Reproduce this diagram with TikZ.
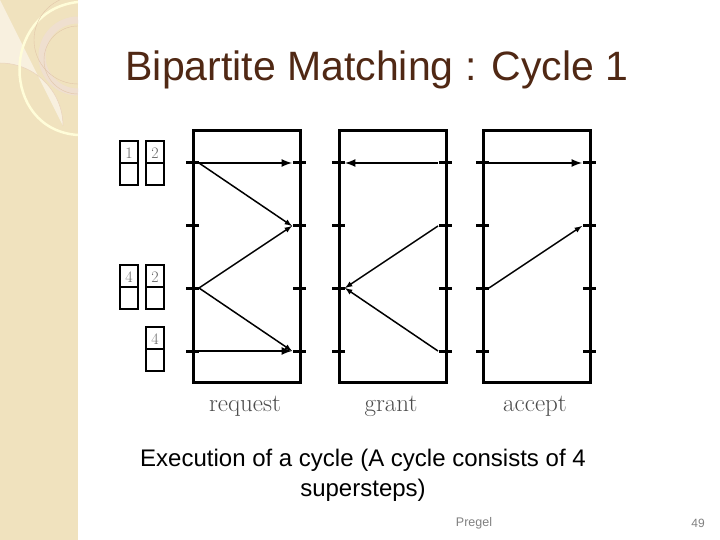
\documentclass[tikz,border=0pt]{standalone}
\usepackage{fontspec}
\setmainfont{Liberation Sans}
\newfontfamily\lmr{Latin Modern Roman}
\definecolor{strip}{RGB}{240,226,190}
\definecolor{ttl}{RGB}{80,40,20}
\begin{document}
\begin{tikzpicture}[x=1pt,y=-1pt,
  col/.style={draw,line width=3pt},
  cell/.style={draw,line width=2.5pt},
  tk/.style={line width=3pt},
  arr/.style={-latex,line width=1.5pt},
  harr/.style={-latex,line width=2.5pt},
  lab/.style={font=\lmr\fontsize{25}{28}\selectfont,text=black!70},
  num/.style={font=\lmr\fontsize{16}{18}\selectfont,text=black!60}]
\useasboundingbox (0,0) rectangle (720,540);
\fill[white] (0,0) rectangle (720,540);
\fill[strip] (0,0) rectangle (78,540);
\fill[white!50!strip] (0,0) -- (0,63) arc[start angle=270,end angle=360,radius=63] -- cycle;
\draw[brown!35,line width=0.5pt] (0,63) arc[start angle=270,end angle=360,radius=63];
\draw[white!85!yellow,line width=2.5pt] (78,2) .. controls (0,10) and (0,130) .. (78,135);
\draw[brown!25,line width=7pt] (78,92) arc[start angle=90,end angle=270,radius=36];
\draw[brown!45,line width=0.4pt] (78,84) arc[start angle=90,end angle=270,radius=44];
\draw[brown!45,line width=0.4pt] (78,94) arc[start angle=90,end angle=270,radius=34];
\node[text=ttl,font=\fontsize{41}{44}\selectfont] (title) at (377,70) {Bipartite Matching : Cycle 1};
% columns
\foreach \n/\x in {r/193,g/339,a/483}{
  \draw[col] (\x,131) rectangle ++(107,251);
  \foreach \y/\i in {163/1,226/2,288/3,351/4}{
    \draw[tk] (\x-7,\y) -- (\x+6,\y);
    \draw[tk] (\x+100,\y) -- (\x+113,\y);
    \coordinate (\n L\i) at (\x+6,\y);
    \coordinate (\n R\i) at (\x+99,\y);
  }
}
% cells
\foreach \nm/\x/\y/\t in {c1/120/141/1,c2/146/141/2,c3/120/265/4,c4/146/265/2,c5/146/327/4}{
  \draw[cell] (\x,\y) rectangle ++(18,44);
  \draw[cell] (\x,\y+22) -- ++(18,0);
  \node[num] (\nm) at (\x+9,\y+12) {\t};
}
% request
\draw[harr] (rL1) -- (rR1);
\draw[arr] (rL1) -- (rR2);
\draw[arr] (rL3) -- (rR2);
\draw[arr] (rL3) -- (rR4);
\draw[harr] (rL4) -- (rR4);
% grant
\draw[harr] (gR1) -- (gL1);
\draw[arr] (gR2) -- (gL3);
\draw[arr] (gR4) -- (gL3);
% accept
\draw[harr] (aL1) -- (aR1);
\draw[arr] (aL3) -- (aR2);
\node[lab] (l1) at (245,406) {request};
\node[lab] (l2) at (391,406) {grant};
\node[lab] (l3) at (535,406) {accept};
\node[font=\fontsize{24}{30}\selectfont,align=center] (cap) at (363,475) {Execution of a cycle (A cycle consists of 4\\supersteps)};
\node[font=\fontsize{12.5}{14}\selectfont,text=black!50] (pg) at (474,523) {Pregel};
\node[font=\fontsize{12}{14}\selectfont,text=black!50] (pn) at (698,523) {49};
\end{tikzpicture}
\end{document}
